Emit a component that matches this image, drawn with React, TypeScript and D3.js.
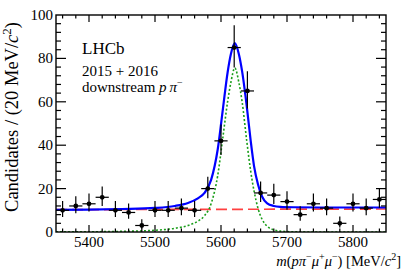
import { useEffect, useRef } from "react";
import * as d3 from "d3";

// binned data, 20 MeV bins
const binCenters = [
  5360, 5380, 5400, 5420, 5440, 5460, 5480, 5500, 5520, 5540, 5560, 5580, 5600,
  5620, 5640, 5660, 5680, 5700, 5720, 5740, 5760, 5780, 5800, 5820, 5840,
];
const counts = [
  10, 12, 13, 16, 10, 9, 3, 10, 10, 11, 10, 20, 42, 85, 65, 18, 17, 14, 8, 13,
  11, 4, 13, 11, 15,
];
const errLow = [
  3.1, 3.4, 3.6, 4.0, 3.1, 2.9, 1.6, 3.1, 3.1, 3.3, 3.1, 4.4, 6.5, 9.2, 8.1,
  4.2, 4.1, 3.7, 2.8, 3.6, 3.3, 1.9, 3.6, 3.3, 3.8,
];
const errHigh = [
  4.3, 4.5, 4.7, 5.0, 4.3, 4.1, 2.9, 4.3, 4.3, 4.4, 4.3, 5.5, 7.5, 10.3, 9.1,
  5.3, 5.2, 4.8, 3.9, 4.7, 4.4, 3.2, 4.7, 4.4, 4.9,
];

// fit curves
const fitMass = [
  5350, 5400, 5450, 5500, 5530, 5550, 5565, 5575, 5585, 5595, 5603, 5610, 5615,
  5621, 5627, 5632, 5639, 5645, 5650, 5656, 5662, 5670, 5680, 5690, 5710, 5750,
  5800, 5850,
];
const totalFit = [
  10.2, 10.3, 10.6, 11.1, 12.0, 13.4, 15.5, 18.0, 24.0, 38.0, 57.0, 73.5, 82.0,
  87.0, 82.0, 74.0, 58.0, 42.0, 30.5, 22.0, 16.5, 13.2, 12.0, 11.6, 11.4, 11.3,
  11.3, 11.3,
];
const signalFit = [
  0.05, 0.1, 0.3, 0.8, 1.7, 3.0, 5.0, 7.5, 13.0, 26.0, 44.0, 60.0, 69.0, 75.6,
  69.0, 60.0, 42.0, 28.0, 19.0, 11.0, 6.0, 2.6, 1.0, 0.4, 0.1, 0, 0, 0,
];
const bkgMass = [5350, 5850];
const bkgFit = [10.3, 10.6];

const xTicks = [5400, 5500, 5600, 5700, 5800];
const yTicks = [0, 20, 40, 60, 80, 100];

const serif = "'Liberation Serif', 'DejaVu Serif', serif";

const App = () => {
  const svgRef = useRef(null);

  useEffect(() => {
    const svg = d3.select(svgRef.current);
    svg.selectAll("*").remove();

    const x = d3.scaleLinear().domain([5350, 5850]).range([56, 386]);
    const y = d3.scaleLinear().domain([0, 100]).range([232, 15]);
    const [x0, x1] = x.range();
    const [y0, y1] = y.range();

    svg.append("rect").attr("width", 407).attr("height", 276).attr("fill", "white");

    svg
      .append("defs")
      .append("clipPath")
      .attr("id", "plot-clip")
      .append("rect")
      .attr("x", x0)
      .attr("y", y1)
      .attr("width", x1 - x0)
      .attr("height", y0 - y1);

    const plot = svg.append("g").attr("clip-path", "url(#plot-clip)");

    // background
    const bkgLine = d3
      .line()
      .x((d, i) => x(bkgMass[i]))
      .y((d) => y(d));
    plot
      .append("path")
      .datum(bkgFit)
      .attr("d", bkgLine)
      .attr("fill", "none")
      .attr("stroke", "#ff4040")
      .attr("stroke-width", 1.7)
      .attr("stroke-dasharray", "11,5");

    const fitLine = d3
      .line()
      .x((d, i) => x(fitMass[i]))
      .y((d) => y(d))
      .curve(d3.curveMonotoneX);

    // signal
    plot
      .append("path")
      .datum(signalFit)
      .attr("d", fitLine)
      .attr("fill", "none")
      .attr("stroke", "#1a9e1a")
      .attr("stroke-width", 1.6)
      .attr("stroke-dasharray", "2,2");

    // total
    plot
      .append("path")
      .datum(totalFit)
      .attr("d", fitLine)
      .attr("fill", "none")
      .attr("stroke", "#0000ff")
      .attr("stroke-width", 2.2);

    // data points
    const pts = svg.append("g").attr("stroke", "black").attr("stroke-width", 1.2);
    binCenters.forEach((m, i) => {
      const cx = x(m);
      const cy = y(counts[i]);
      pts
        .append("line")
        .attr("x1", x(m - 10))
        .attr("x2", x(m + 10))
        .attr("y1", cy)
        .attr("y2", cy);
      pts
        .append("line")
        .attr("x1", cx)
        .attr("x2", cx)
        .attr("y1", y(counts[i] - errLow[i]))
        .attr("y2", y(counts[i] + errHigh[i]));
      pts.append("circle").attr("cx", cx).attr("cy", cy).attr("r", 2.4).attr("fill", "black").attr("stroke", "none");
    });

    // frame + ticks (ROOT style, inside)
    const axes = svg.append("g").attr("stroke", "black").attr("stroke-width", 1.2);
    axes
      .append("rect")
      .attr("x", x0)
      .attr("y", y1)
      .attr("width", x1 - x0)
      .attr("height", y0 - y1)
      .attr("fill", "none")
      .attr("stroke-width", 1.4);

    d3.range(5360, 5850, 20).forEach((m) => {
      const major = xTicks.includes(m);
      const len = major ? 7 : 3.5;
      axes.append("line").attr("x1", x(m)).attr("x2", x(m)).attr("y1", y0).attr("y2", y0 - len);
      axes.append("line").attr("x1", x(m)).attr("x2", x(m)).attr("y1", y1).attr("y2", y1 + len);
    });
    d3.range(4, 100, 4).forEach((v) => {
      const major = v % 20 === 0;
      const len = major ? 10 : 5;
      axes.append("line").attr("x1", x0).attr("x2", x0 + len).attr("y1", y(v)).attr("y2", y(v));
      axes.append("line").attr("x1", x1).attr("x2", x1 - len).attr("y1", y(v)).attr("y2", y(v));
    });

    const labels = svg.append("g").attr("font-family", serif).attr("font-size", 15).attr("fill", "black");
    yTicks.forEach((v) => {
      labels
        .append("text")
        .attr("x", x0 - 3)
        .attr("y", y(v) + 5)
        .attr("text-anchor", "end")
        .text(v);
    });
    xTicks.forEach((m) => {
      labels
        .append("text")
        .attr("x", x(m))
        .attr("y", 247)
        .attr("text-anchor", "middle")
        .text(m);
    });

    // x title
    const xt = svg
      .append("text")
      .attr("font-family", serif)
      .attr("font-size", 14.5)
      .attr("x", 401)
      .attr("y", 266)
      .attr("text-anchor", "end");
    const xParts = [
      ["m", "i", 0],
      ["(", "n", 0],
      ["p", "i", 0],
      ["π", "i", 0],
      ["−", "n", 1],
      ["μ", "i", 0],
      ["+", "n", 1],
      ["μ", "i", 0],
      ["−", "n", 1],
      [") [MeV/", "n", 0],
      ["c", "i", 0],
      ["2", "n", 1],
      ["]", "n", 0],
    ];
    let up = false;
    xParts.forEach(([t, s, sup]) => {
      const ts = xt.append("tspan").text(t);
      if (s === "i") ts.attr("font-style", "italic");
      if (sup && !up) {
        ts.attr("dy", -6).attr("font-size", 10);
        up = true;
      } else if (sup) {
        ts.attr("font-size", 10);
      } else if (up) {
        ts.attr("dy", 6);
        up = false;
      }
    });

    // y title
    const yt = svg
      .append("text")
      .attr("font-family", serif)
      .attr("font-size", 18.5)
      .attr("transform", "translate(18,22) rotate(-90)")
      .attr("text-anchor", "end");
    yt.append("tspan").text("Candidates / (20 MeV/");
    yt.append("tspan").attr("font-style", "italic").text("c");
    yt.append("tspan").attr("font-size", 13).attr("dy", -7).text("2");
    yt.append("tspan").attr("dy", 7).text(")");

    // LHCb labels
    svg
      .append("text")
      .attr("font-family", serif)
      .attr("font-size", 17)
      .attr("x", 82)
      .attr("y", 54)
      .text("LHCb");
    svg
      .append("text")
      .attr("font-family", serif)
      .attr("font-size", 15)
      .attr("x", 82)
      .attr("y", 76)
      .text("2015 + 2016");
    const ds = svg
      .append("text")
      .attr("font-family", serif)
      .attr("font-size", 15)
      .attr("x", 82)
      .attr("y", 92);
    ds.append("tspan").text("downstream ");
    ds.append("tspan").attr("font-style", "italic").text("p\u2009π");
    ds.append("tspan").attr("font-size", 10).attr("dy", -6).text("−");
  }, []);

  return (
    <svg
      ref={svgRef}
      width={407}
      height={276}
      style={{ position: "absolute", left: 0, top: 0, background: "white" }}
    />
  );
};

export default App;
